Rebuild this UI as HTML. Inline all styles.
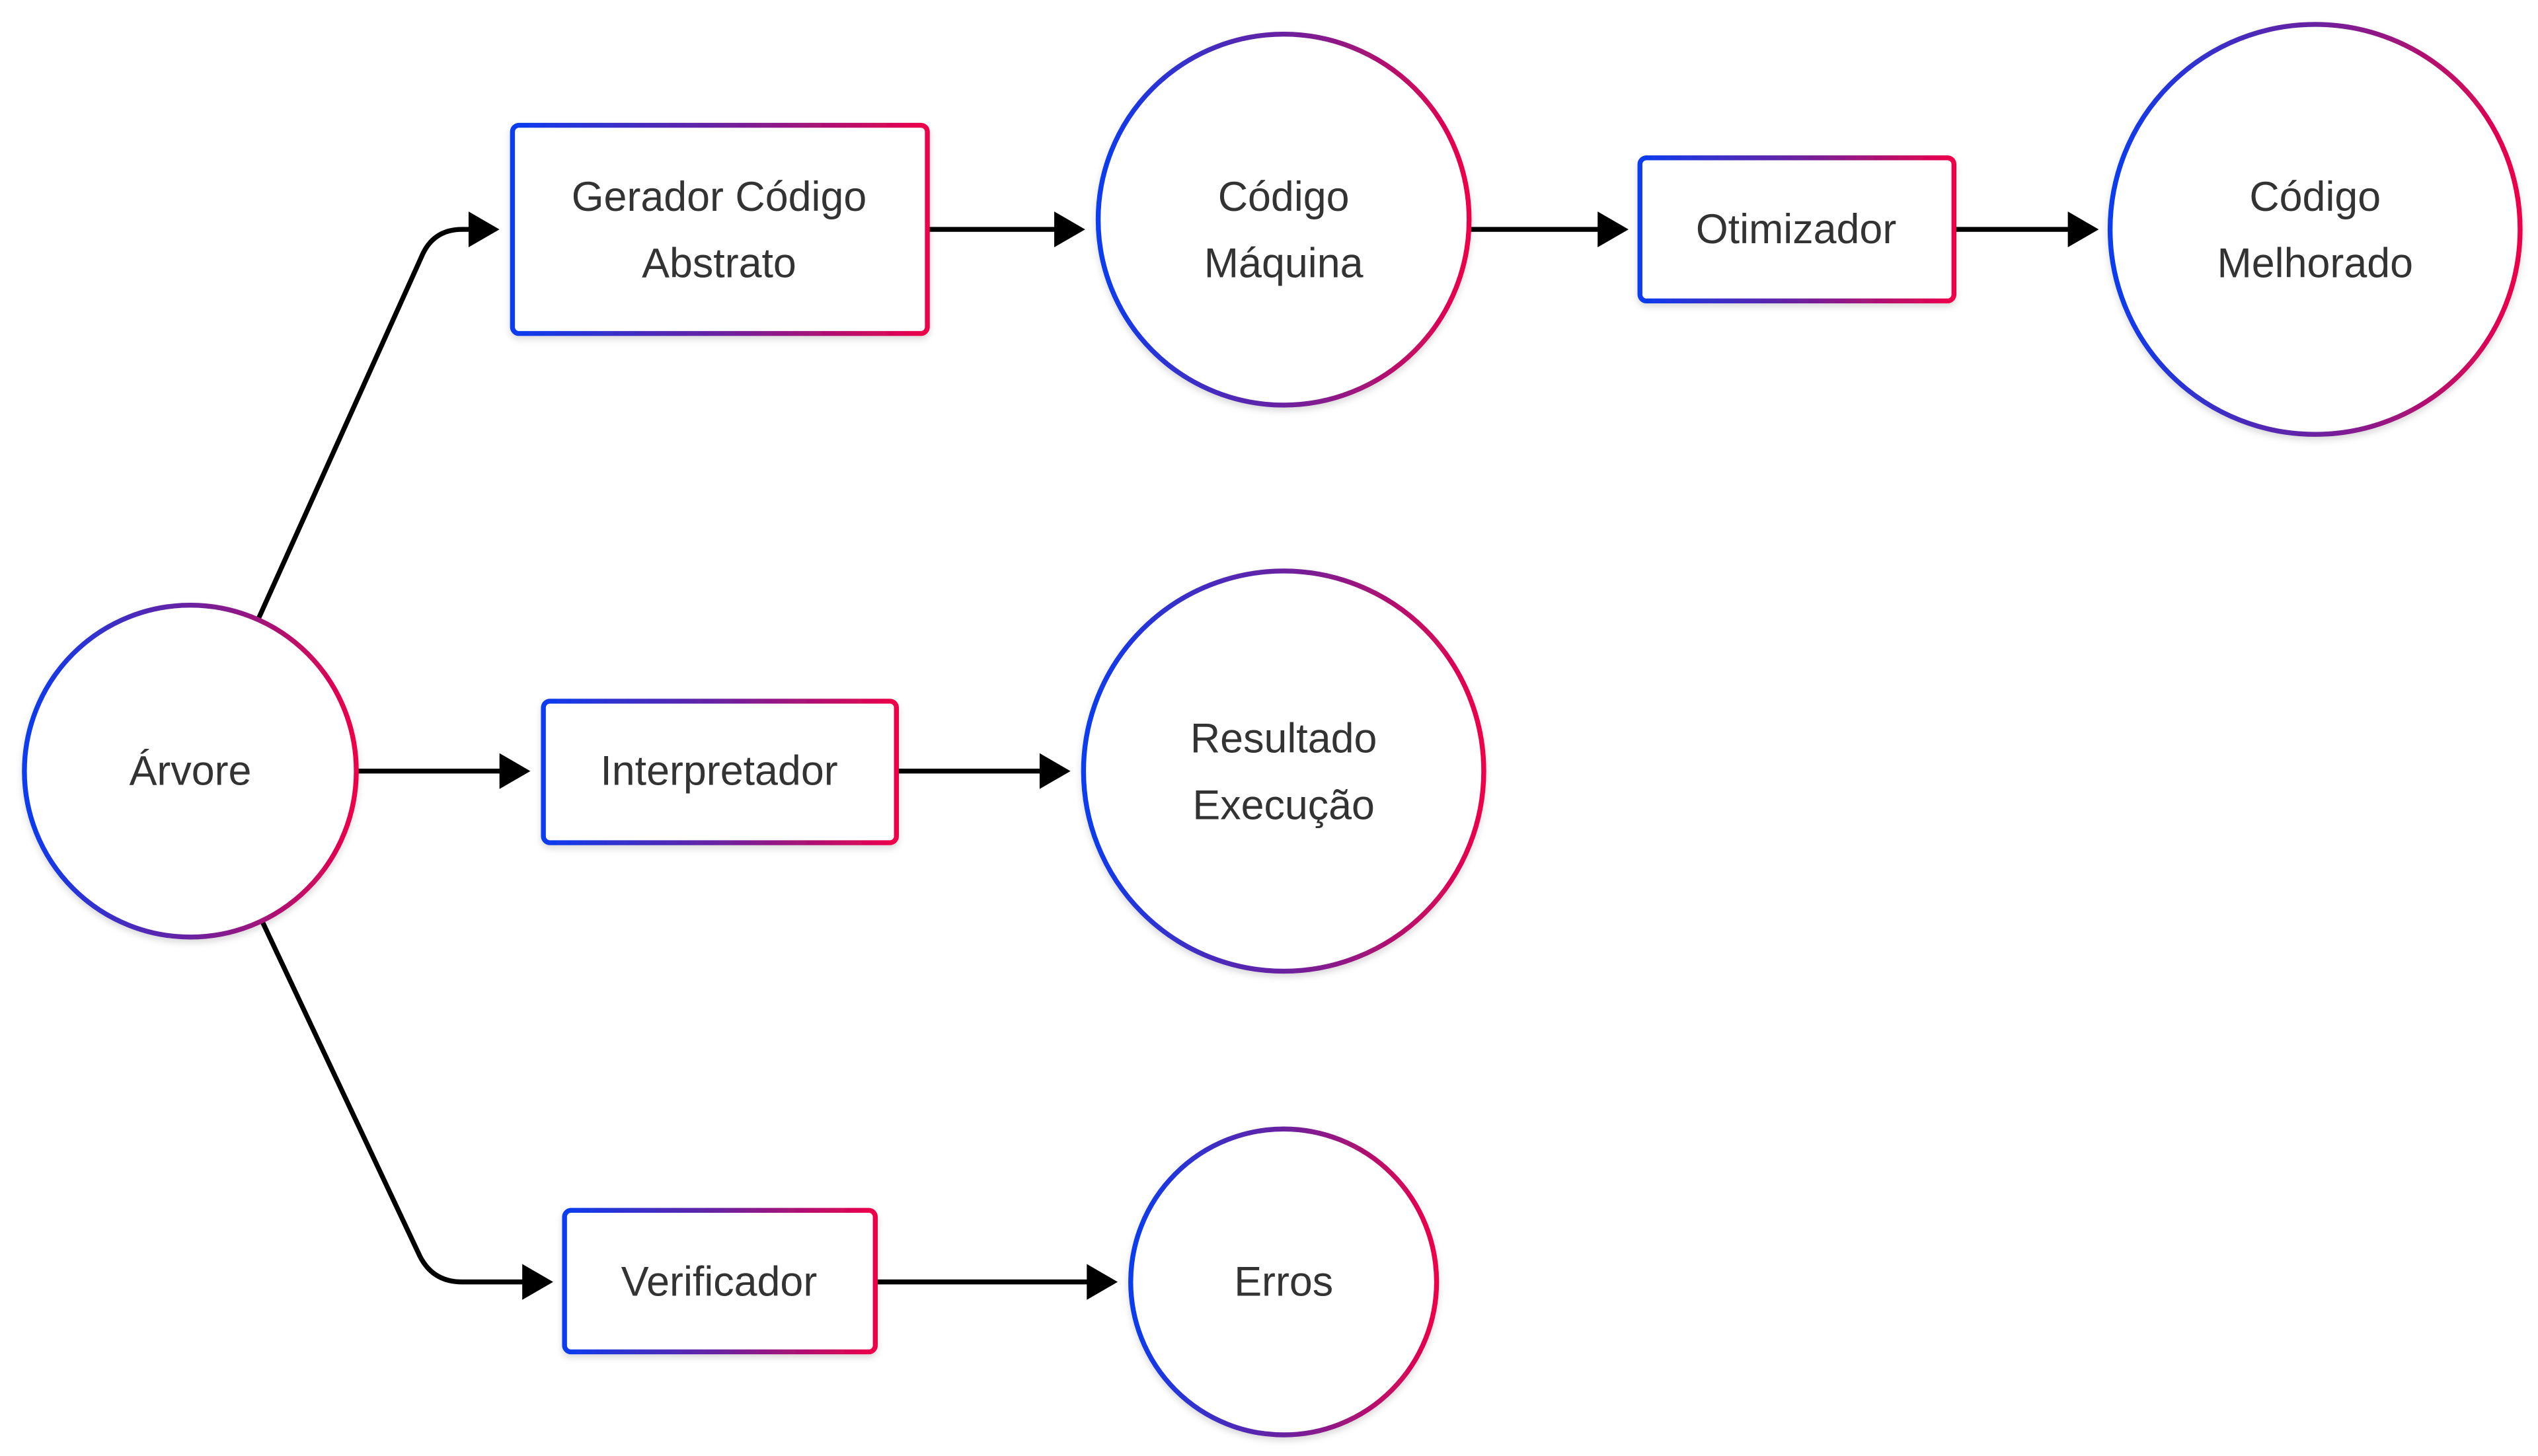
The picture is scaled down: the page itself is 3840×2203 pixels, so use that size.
<!DOCTYPE html>
<html><head><meta charset="utf-8"><style>
html,body{margin:0;padding:0;background:#fff;}
svg{display:block;}
text{font-family:"Liberation Sans",Arial,sans-serif;font-size:25.5px;fill:#333;text-anchor:middle;dominant-baseline:central;}
</style></head><body>
<svg width="3840" height="2203" viewBox="0 0 1560 895" preserveAspectRatio="none" xmlns="http://www.w3.org/2000/svg">
<defs>
<linearGradient id="g" x1="0" y1="0" x2="1" y2="0">
<stop offset="0" stop-color="#0a3cf0"/><stop offset="0.5" stop-color="#6a22a0"/><stop offset="1" stop-color="#ee0048"/>
</linearGradient>
<filter id="s" x="-10%" y="-10%" width="120%" height="130%"><feDropShadow dx="0" dy="2" stdDeviation="2" flood-color="#000" flood-opacity="0.15"/></filter>
</defs>
<g fill="none" stroke="#000" stroke-width="3">
<path d="M159,380 L259,158 Q266,141 284,141 L292,141"/>
<path d="M219,474 L310,474"/>
<path d="M161,566 L258,772 Q266,788 284,788 L324,788"/>
<path d="M570,141 L650,141"/>
<path d="M903,141 L984,141"/>
<path d="M1201,141 L1273,141"/>
<path d="M551,474 L641,474"/>
<path d="M538,788 L670,788"/>
</g>
<g fill="#000">
<polygon points="288,130 307,141 288,152"/>
<polygon points="307,463 326,474 307,485"/>
<polygon points="321,777 340,788 321,799"/>
<polygon points="648,130 667,141 648,152"/>
<polygon points="982,130 1001,141 982,152"/>
<polygon points="1271,130 1290,141 1271,152"/>
<polygon points="639,463 658,474 639,485"/>
<polygon points="668,777 687,788 668,799"/>
</g>
<g fill="#fff" stroke="url(#g)" stroke-width="3" filter="url(#s)">
<circle cx="117" cy="474" r="102"/>
<rect x="315" y="77" width="255" height="128" rx="4"/>
<circle cx="789" cy="135" r="114"/>
<rect x="1008" y="97" width="193" height="88" rx="4"/>
<circle cx="1423" cy="141" r="126"/>
<rect x="334" y="431" width="217" height="87" rx="4"/>
<circle cx="789" cy="474" r="123"/>
<rect x="347" y="744" width="191" height="87" rx="4"/>
<circle cx="789" cy="788" r="94"/>
</g>
<text x="117" y="474">Árvore</text>
<text x="442" y="121">Gerador Código</text>
<text x="442" y="162">Abstrato</text>
<text x="789" y="121">Código</text>
<text x="789" y="162">Máquina</text>
<text x="1104" y="141">Otimizador</text>
<text x="1423" y="121">Código</text>
<text x="1423" y="162">Melhorado</text>
<text x="442" y="474">Interpretador</text>
<text x="789" y="454">Resultado</text>
<text x="789" y="495">Execução</text>
<text x="442" y="788">Verificador</text>
<text x="789" y="788">Erros</text>
</svg>
</body></html>
